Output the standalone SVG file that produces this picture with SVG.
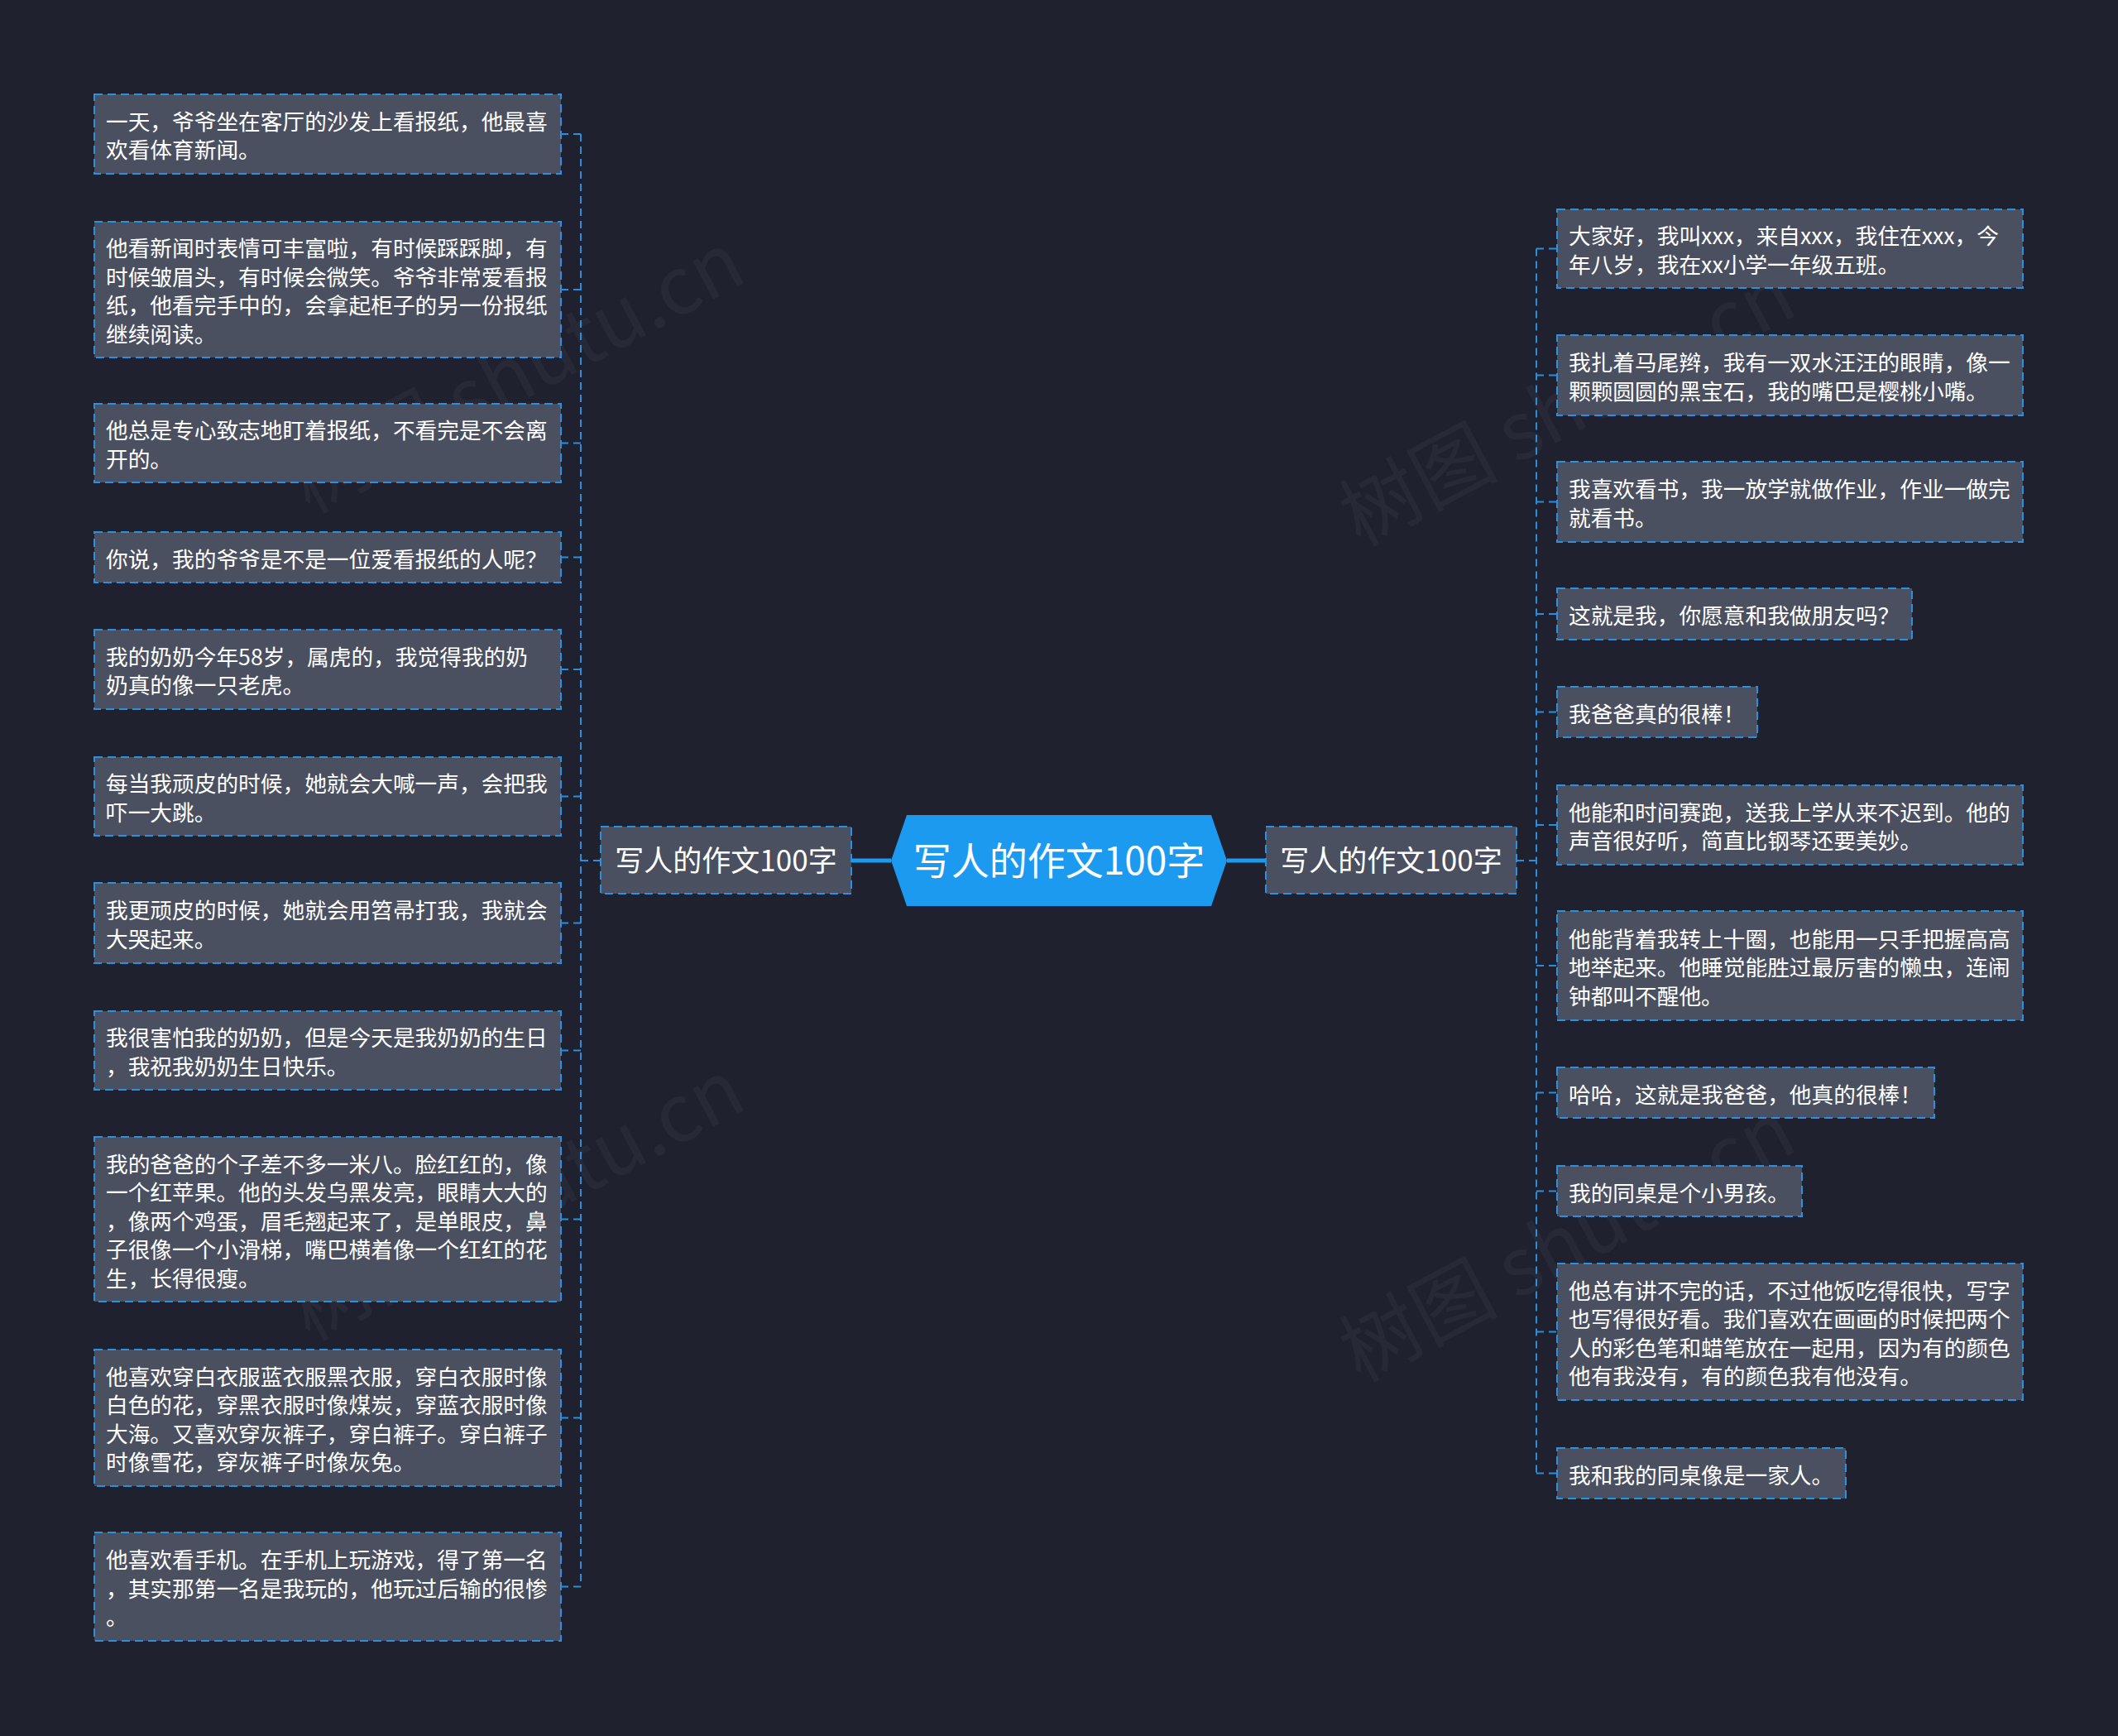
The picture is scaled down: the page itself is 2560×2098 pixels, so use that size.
<svg xmlns="http://www.w3.org/2000/svg" width="2560" height="2098" viewBox="0 0 2560 2098">
<style>
.bg{fill:#1f222e}
.box{fill:#4a505f;stroke:#2a90e2;stroke-width:2;stroke-dasharray:10 6}
.t{font-family:"Noto Sans CJK SC","Noto Sans",sans-serif;font-size:26.7px;fill:#ffffff}
.sub{font-family:"Noto Sans CJK SC","Noto Sans",sans-serif;font-size:35px;fill:#ffffff;text-anchor:middle}
.root{font-family:"Noto Sans CJK SC","Noto Sans",sans-serif;font-size:46px;fill:#ffffff;text-anchor:middle}
.conn{fill:none;stroke:#2a8ee0;stroke-width:2;stroke-dasharray:9 6}
.main{fill:none;stroke:#1c9af0;stroke-width:5}
.wm{font-family:"Noto Sans CJK SC","Noto Sans",sans-serif;font-size:96px;fill:#ffffff;opacity:0.035;text-anchor:middle}
</style>
<rect class="bg" x="0" y="0" width="2560" height="2098"/>
<g id="watermarks">
<text class="wm" transform="translate(640,480) rotate(-28)">树图 shutu.cn</text>
<text class="wm" transform="translate(640,1480) rotate(-28)">树图 shutu.cn</text>
<text class="wm" transform="translate(1910,520) rotate(-28)">树图 shutu.cn</text>
<text class="wm" transform="translate(1910,1530) rotate(-28)">树图 shutu.cn</text>
</g>
<g id="connectors">
<path class="main" d="M1029,1040 H1077 M1483,1040 H1530"/>
<path class="conn" d="M726,1040 H702 M702,162 V1917.5 M678,162 H702 M678,350 H702 M678,535.5 H702 M678,673.5 H702 M678,809 H702 M678,962.5 H702 M678,1115.5 H702 M678,1269.5 H702 M678,1473.5 H702 M678,1713.5 H702 M678,1917.5 H702"/>
<path class="conn" d="M1833,1040 H1857 M1857,300.5 V1780.5 M1857,300.5 H1882 M1857,453.5 H1882 M1857,606.5 H1882 M1857,742 H1882 M1857,860.5 H1882 M1857,997 H1882 M1857,1167 H1882 M1857,1320.5 H1882 M1857,1439.5 H1882 M1857,1609.5 H1882 M1857,1780.5 H1882"/>
</g>
<g id="root">
<polygon points="1096,985 1464,985 1483,1040 1464,1095 1096,1095 1077,1040" fill="#1c9af0"/>
<text class="root" x="1280" y="1057">写人的作文100字</text>
</g>
<g id="sub-left">
<rect class="box" x="726" y="999" width="303" height="81"/>
<text class="sub" x="877.5" y="1053">写人的作文100字</text>
</g>
<g id="sub-right">
<rect class="box" x="1530" y="999" width="303" height="81"/>
<text class="sub" x="1681.5" y="1053">写人的作文100字</text>
</g>
<g id="L1"><rect class="box" x="114" y="114" width="564" height="96"/>
<text class="t" x="128" y="156.75">一天，爷爷坐在客厅的沙发上看报纸，他最喜</text>
<text class="t" x="128" y="191.25">欢看体育新闻。</text></g>
<g id="L2"><rect class="box" x="114" y="268" width="564" height="164"/>
<text class="t" x="128" y="310.25">他看新闻时表情可丰富啦，有时候踩踩脚，有</text>
<text class="t" x="128" y="344.75">时候皱眉头，有时候会微笑。爷爷非常爱看报</text>
<text class="t" x="128" y="379.25">纸，他看完手中的，会拿起柜子的另一份报纸</text>
<text class="t" x="128" y="413.75">继续阅读。</text></g>
<g id="L3"><rect class="box" x="114" y="488" width="564" height="95"/>
<text class="t" x="128" y="530.25">他总是专心致志地盯着报纸，不看完是不会离</text>
<text class="t" x="128" y="564.75">开的。</text></g>
<g id="L4"><rect class="box" x="114" y="643" width="564" height="61"/>
<text class="t" x="128" y="685.5">你说，我的爷爷是不是一位爱看报纸的人呢？</text></g>
<g id="L5"><rect class="box" x="114" y="761" width="564" height="96"/>
<text class="t" x="128" y="803.75">我的奶奶今年58岁，属虎的，我觉得我的奶</text>
<text class="t" x="128" y="838.25">奶真的像一只老虎。</text></g>
<g id="L6"><rect class="box" x="114" y="915" width="564" height="95"/>
<text class="t" x="128" y="957.25">每当我顽皮的时候，她就会大喊一声，会把我</text>
<text class="t" x="128" y="991.75">吓一大跳。</text></g>
<g id="L7"><rect class="box" x="114" y="1067" width="564" height="97"/>
<text class="t" x="128" y="1110.25">我更顽皮的时候，她就会用笤帚打我，我就会</text>
<text class="t" x="128" y="1144.75">大哭起来。</text></g>
<g id="L8"><rect class="box" x="114" y="1222" width="564" height="95"/>
<text class="t" x="128" y="1264.25">我很害怕我的奶奶，但是今天是我奶奶的生日</text>
<text class="t" x="128" y="1298.75">，我祝我奶奶生日快乐。</text></g>
<g id="L9"><rect class="box" x="114" y="1374" width="564" height="199"/>
<text class="t" x="128" y="1416.5">我的爸爸的个子差不多一米八。脸红红的，像</text>
<text class="t" x="128" y="1451">一个红苹果。他的头发乌黑发亮，眼睛大大的</text>
<text class="t" x="128" y="1485.5">，像两个鸡蛋，眉毛翘起来了，是单眼皮，鼻</text>
<text class="t" x="128" y="1520">子很像一个小滑梯，嘴巴横着像一个红红的花</text>
<text class="t" x="128" y="1554.5">生，长得很瘦。</text></g>
<g id="L10"><rect class="box" x="114" y="1631" width="564" height="165"/>
<text class="t" x="128" y="1673.75">他喜欢穿白衣服蓝衣服黑衣服，穿白衣服时像</text>
<text class="t" x="128" y="1708.25">白色的花，穿黑衣服时像煤炭，穿蓝衣服时像</text>
<text class="t" x="128" y="1742.75">大海。又喜欢穿灰裤子，穿白裤子。穿白裤子</text>
<text class="t" x="128" y="1777.25">时像雪花，穿灰裤子时像灰兔。</text></g>
<g id="L11"><rect class="box" x="114" y="1852" width="564" height="131"/>
<text class="t" x="128" y="1895">他喜欢看手机。在手机上玩游戏，得了第一名</text>
<text class="t" x="128" y="1929.5">，其实那第一名是我玩的，他玩过后输的很惨</text>
<text class="t" x="128" y="1964">。</text></g>
<g id="R1"><rect class="box" x="1882" y="253" width="563" height="95"/>
<text class="t" x="1896" y="295.25">大家好，我叫xxx，来自xxx，我住在xxx，今</text>
<text class="t" x="1896" y="329.75">年八岁，我在xx小学一年级五班。</text></g>
<g id="R2"><rect class="box" x="1882" y="405" width="563" height="97"/>
<text class="t" x="1896" y="448.25">我扎着马尾辫，我有一双水汪汪的眼睛，像一</text>
<text class="t" x="1896" y="482.75">颗颗圆圆的黑宝石，我的嘴巴是樱桃小嘴。</text></g>
<g id="R3"><rect class="box" x="1882" y="558" width="563" height="97"/>
<text class="t" x="1896" y="601.25">我喜欢看书，我一放学就做作业，作业一做完</text>
<text class="t" x="1896" y="635.75">就看书。</text></g>
<g id="R4"><rect class="box" x="1882" y="711" width="429" height="62"/>
<text class="t" x="1896" y="754">这就是我，你愿意和我做朋友吗？</text></g>
<g id="R5"><rect class="box" x="1882" y="830" width="242" height="61"/>
<text class="t" x="1896" y="872.5">我爸爸真的很棒！</text></g>
<g id="R6"><rect class="box" x="1882" y="949" width="563" height="96"/>
<text class="t" x="1896" y="991.75">他能和时间赛跑，送我上学从来不迟到。他的</text>
<text class="t" x="1896" y="1026.25">声音很好听，简直比钢琴还要美妙。</text></g>
<g id="R7"><rect class="box" x="1882" y="1101" width="563" height="132"/>
<text class="t" x="1896" y="1144.5">他能背着我转上十圈，也能用一只手把握高高</text>
<text class="t" x="1896" y="1179">地举起来。他睡觉能胜过最厉害的懒虫，连闹</text>
<text class="t" x="1896" y="1213.5">钟都叫不醒他。</text></g>
<g id="R8"><rect class="box" x="1882" y="1290" width="456" height="61"/>
<text class="t" x="1896" y="1332.5">哈哈，这就是我爸爸，他真的很棒！</text></g>
<g id="R9"><rect class="box" x="1882" y="1409" width="296" height="61"/>
<text class="t" x="1896" y="1451.5">我的同桌是个小男孩。</text></g>
<g id="R10"><rect class="box" x="1882" y="1527" width="563" height="165"/>
<text class="t" x="1896" y="1569.75">他总有讲不完的话，不过他饭吃得很快，写字</text>
<text class="t" x="1896" y="1604.25">也写得很好看。我们喜欢在画画的时候把两个</text>
<text class="t" x="1896" y="1638.75">人的彩色笔和蜡笔放在一起用，因为有的颜色</text>
<text class="t" x="1896" y="1673.25">他有我没有，有的颜色我有他没有。</text></g>
<g id="R11"><rect class="box" x="1882" y="1750" width="349" height="61"/>
<text class="t" x="1896" y="1792.5">我和我的同桌像是一家人。</text></g>
</svg>
